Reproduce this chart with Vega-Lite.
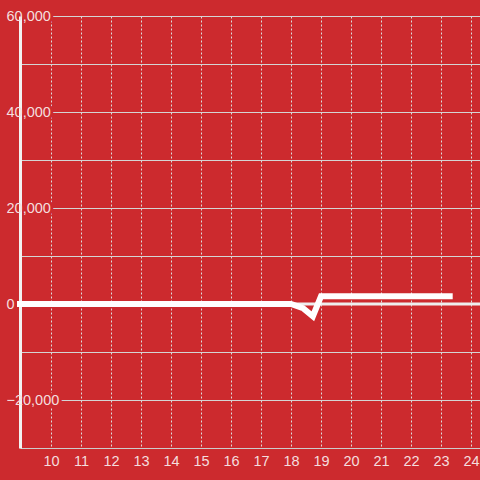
{
  "$schema": "https://vega.github.io/schema/vega-lite/v6.json",
  "width": 460,
  "height": 432,
  "autosize": {"type": "none"},
  "padding": {"left": 20, "top": 16, "right": 0, "bottom": 32},
  "background": "#cc2a2e",
  "config": {
    "view": {"stroke": null},
    "font": "Liberation Sans"
  },
  "datasets": {
    "series": [
      {"x": 8.967, "y": 0},
      {"x": 18.0, "y": 0},
      {"x": 18.4, "y": -850},
      {"x": 18.73, "y": -2550},
      {"x": 19.0, "y": 1600},
      {"x": 23.29, "y": 1600}
    ],
    "zero": [{"y": 0}]
  },
  "layer": [
    {
      "data": {"name": "zero"},
      "mark": {"type": "rule", "color": "#eeeeee", "strokeWidth": 3},
      "encoding": {
        "y": {
          "field": "y",
          "type": "quantitative",
          "scale": {"domain": [-30000, 60000], "nice": false, "zero": false},
          "axis": {
            "orient": "left",
            "values": [-20000, -10000, 0, 10000, 20000, 30000, 40000, 50000, 60000],
            "grid": true,
            "gridColor": "#d4d4d4",
            "gridWidth": 1,
            "domain": true,
            "domainColor": "#f2f2f2",
            "domainWidth": 3,
            "ticks": false,
            "tickSize": 0,
            "labelAlign": "left",
            "labelBaseline": "middle",
            "labelPadding": 14,
            "labelFontSize": 14.5,
            "labelColor": "#cc2a2e",
            "labelOverlap": false,
            "labelExpr": "datum.value % 20000 === 0 ? datum.label : ''",
            "title": null,
            "encoding": {
              "labels": {
                "stroke": {"value": "#cc2a2e"},
                "strokeWidth": {"value": 6},
                "strokeJoin": {"value": "round"}
              }
            }
          }
        }
      }
    },
    {
      "data": {"name": "series"},
      "mark": {"type": "line", "color": "#ffffff", "strokeWidth": 6, "strokeCap": "square", "strokeJoin": "miter"},
      "encoding": {
        "x": {
          "field": "x",
          "type": "quantitative",
          "scale": {"domain": [8.967, 24.3], "nice": false, "zero": false},
          "axis": {
            "values": [10, 11, 12, 13, 14, 15, 16, 17, 18, 19, 20, 21, 22, 23, 24],
            "grid": true,
            "gridColor": "#dddddd",
            "gridDash": [2, 2],
            "gridWidth": 1,
            "domain": true,
            "domainColor": "#cccccc",
            "domainWidth": 1,
            "ticks": false,
            "tickSize": 0,
            "labelPadding": 6,
            "labelFontSize": 14.5,
            "labelColor": "#f4dede",
            "labelFlush": false,
            "labelOverlap": false,
            "title": null
          }
        },
        "y": {
          "field": "y",
          "type": "quantitative",
          "scale": {"domain": [-30000, 60000], "nice": false, "zero": false},
          "axis": {
            "orient": "left",
            "values": [-20000, 0, 20000, 40000, 60000],
            "grid": false,
            "domain": false,
            "ticks": false,
            "tickSize": 0,
            "labelAlign": "left",
            "labelBaseline": "middle",
            "labelPadding": 14,
            "labelFontSize": 14.5,
            "labelColor": "#f4dede",
            "labelOverlap": false,
            "title": null
          }
        }
      }
    }
  ],
  "resolve": {"scale": {"y": "shared"}, "axis": {"y": "independent"}}
}
